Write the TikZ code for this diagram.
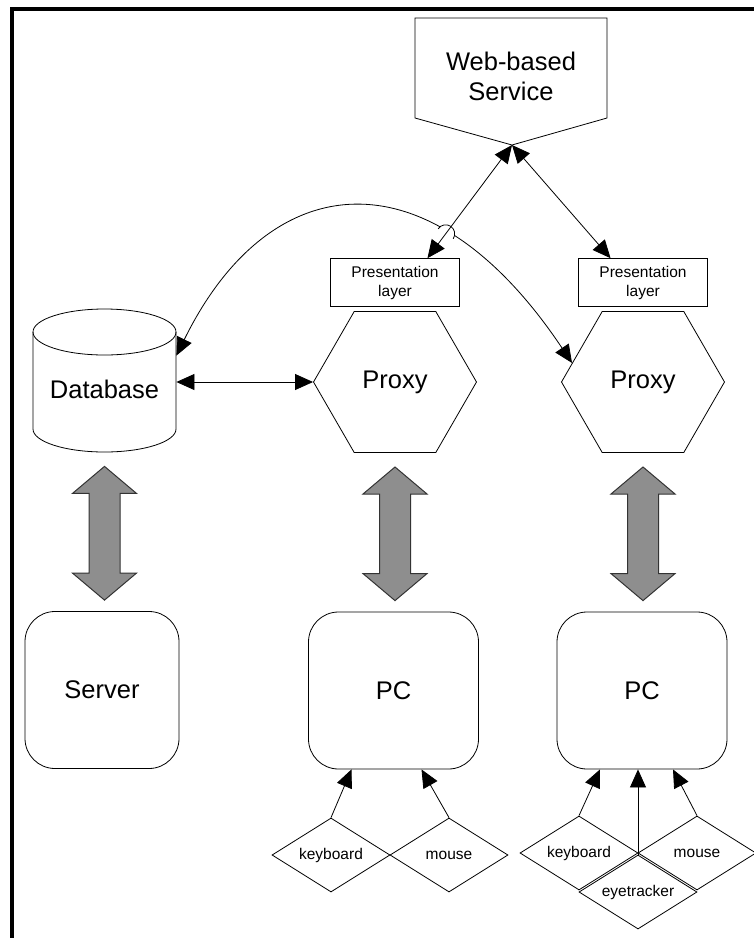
\documentclass[tikz,border=0pt]{standalone}
\usepackage{fontspec}
\setmainfont{Liberation Sans}
\usetikzlibrary{positioning,shapes.geometric,arrows.meta,calc,intersections}
\definecolor{arrowgray}{RGB}{142,142,142}

\begin{document}
\begin{tikzpicture}[x=1pt,y=-1pt,line width=0.8pt]
      \tikzset{
        big/.style={font=\fontsize{25.5}{30}\selectfont,align=center},
        small/.style={font=\fontsize{15.5}{19}\selectfont,align=center},
        proxy/.style={regular polygon,regular polygon sides=6,draw,minimum size=163pt,inner sep=0pt,big},
        layer/.style={rectangle,draw,minimum width=129pt,minimum height=48pt,inner sep=0pt,small},
        host/.style={rectangle,draw,rounded corners=30pt,minimum height=157pt,inner sep=0pt,big},
        device/.style={diamond,draw,aspect=1.6,minimum width=118pt,minimum height=74pt,inner sep=0pt,small},
        tip/.style={-{Triangle[length=18pt,width=16pt]}},
        both/.style={{Triangle[length=18pt,width=16pt]}-{Triangle[length=18pt,width=16pt]}},
        fat/.style={fill=arrowgray,draw=black!80,line width=1pt}
      }
      \useasboundingbox (0,0) rectangle (754,938);
      \draw[line width=4pt] (12,938) -- (12,9) -- (754,9);

      % top service
      \node[big] (svc) at (511,76) {Web-based\\Service};
      \coordinate (svctip) at (512,145);
      \draw (415,18) -- (607,18) -- (607,118) -- (svctip) -- (415,118) -- cycle;

      % middle row
      \node[big,minimum width=143pt,minimum height=126pt,inner sep=0pt] (db) at (104.5,389) {Database};
      \draw (33,332) -- (33,429) arc[start angle=180,end angle=0,x radius=71.5,y radius=23] -- (176,332);
      \draw (104.5,332) ellipse [x radius=71.5,y radius=23];
      \node[proxy] (proxyA) at (395,382) {Proxy};
      \node[proxy] (proxyB) at (643,382) {Proxy};
      \node[layer,above=4pt of proxyA] (layerA) {Presentation\\layer};
      \node[layer,above=4pt of proxyB] (layerB) {Presentation\\layer};

      % bottom row
      \node[host,minimum width=154pt] (srv) at (102,690) {Server};
      \node[host,minimum width=170pt] (pcA) at (393.5,690.5) {PC};
      \node[host,minimum width=170pt] (pcB) at (642,690.5) {PC};

      \node[device] (kbA) at (331,855) {keyboard};
      \node[device] (msA) at (449,855) {mouse};
      \node[device] (kbB) at (579,853) {keyboard};
      \node[device] (msB) at (697,853) {mouse};
      \node[device] (etB) at (638,892) {eyetracker};

      % connectors
      \path[name path=up] (svctip) -- ($(layerA.north)!0.5!(layerA.north east)$);
      \draw[both,name path=dbline] ($(db.north east)+(0,30)$) .. controls (270,165) and (430,150) .. (proxyB.165);
      \path[name intersections={of=dbline and up,by=hop}];
      \fill[white] (hop) circle[radius=9];
      \draw (hop) ++(213.7:9) arc[start angle=213.7,end angle=393.7,radius=9];

      \draw[both] (svctip) -- ($(layerA.north)!0.5!(layerA.north east)$);
      \draw[both] (svctip) -- ($(layerB.north)!0.5!(layerB.north west)$);
      \draw[both] (db.east |- proxyA.west) -- (proxyA.west);

      \foreach \a/\b in {db/srv,proxyA/pcA,proxyB/pcB}
        \draw[fat] let \p1=($(\a.south)+(0,14)$), \p2=($(\b.north)+(0,-11)$) in
          (\x1,\y1) -- ++(32,27) -- ++(-16.5,0) -- (\x1+15.5pt,\y2+27pt) -- ++(16.5,0) -- (\x1,\y2)
          -- ++(-32,-27) -- ++(16.5,0) -- (\x1-15.5pt,\y1-27pt) -- ++(-16.5,0) -- cycle;

      \draw[tip] (kbA.north) -- ($(pcA.south)+(-42,0)$);
      \draw[tip] (msA.north) -- ($(pcA.south)+(28,0)$);
      \draw[tip] (kbB.north) -- ($(pcB.south)+(-42,0)$);
      \draw[tip] (etB.north) -- ($(pcB.south)+(-4,0)$);
      \draw[tip] (msB.north) -- ($(pcB.south)+(31,0)$);
\end{tikzpicture}
\end{document}
